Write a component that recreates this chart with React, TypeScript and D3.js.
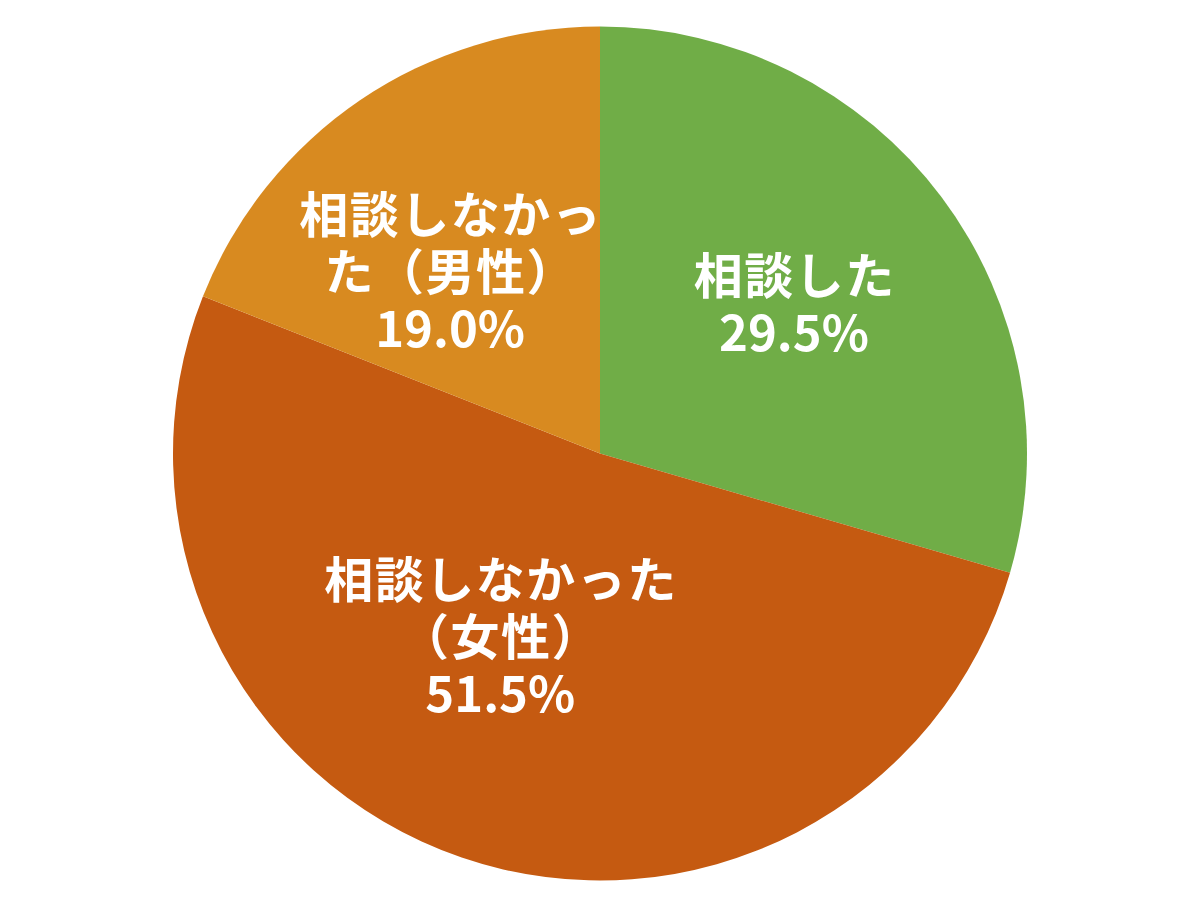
import React from "react";
import { pie, arc, PieArcDatum } from "d3";

// slices, clockwise from 12 o'clock
const labels: string[][] = [
  ["相談した"],
  ["相談しなかった", "（女性）"],
  ["相談しなかっ", "た（男性）"],
];
const values = [29.5, 51.5, 19.0];
const colors = ["#70AD47", "#C55A11", "#D88A20"];

interface Slice {
  lines: string[];
  value: number;
  color: string;
}

const slices: Slice[] = values.map((v, i) => ({ lines: labels[i], value: v, color: colors[i] }));

const W = 1200;
const H = 909;
const cx = 600;
const cy = 453.5;
const R = 427;
const LINE_H = 57;
const SPACING = 1.5;
// label offsets from the centroid, roughly where the spreadsheet put them
const nudge: [number, number][] = [
  [2, -9],
  [-22, -48],
  [-15, 13],
];

export default function App() {
  const pieGen = pie<Slice>()
    .value((d) => d.value)
    .sort(null);
  const arcs = pieGen(slices);

  const sliceArc = arc<PieArcDatum<Slice>>().innerRadius(0).outerRadius(R);
  const labelArc = arc<PieArcDatum<Slice>>().innerRadius(240).outerRadius(240);

  return (
    <svg
      width={W}
      height={H}
      style={{ position: "absolute", left: 0, top: 0, background: "#fff" }}
      fontFamily="'Noto Sans CJK JP', 'Noto Sans', sans-serif"
    >
      <g transform={`translate(${cx},${cy})`}>
        {arcs.map((a, i) => (
          <path key={i} d={sliceArc(a) ?? ""} fill={a.data.color} />
        ))}
        {arcs.map((a, i) => {
          const [x, y] = labelArc.centroid(a);
          const lx = x + nudge[i][0];
          const ly = y + nudge[i][1];
          const lines = [...a.data.lines, `${a.data.value.toFixed(1)}%`];
          const top = ly - ((lines.length - 1) * LINE_H) / 2;
          return (
            <text
              key={i}
              textAnchor="middle"
              fill="#fff"
              fontSize={49}
              fontWeight="bold"
              dominantBaseline="central"
            >
              {lines.map((t, j) => {
                // kana lines sit a little looser than the percentage
                const isPct = j === lines.length - 1;
                return (
                  <tspan
                    key={j}
                    x={isPct ? lx : lx + SPACING / 2}
                    y={top + j * LINE_H}
                    letterSpacing={isPct ? 0 : SPACING}
                  >
                    {t}
                  </tspan>
                );
              })}
            </text>
          );
        })}
      </g>
    </svg>
  );
}
